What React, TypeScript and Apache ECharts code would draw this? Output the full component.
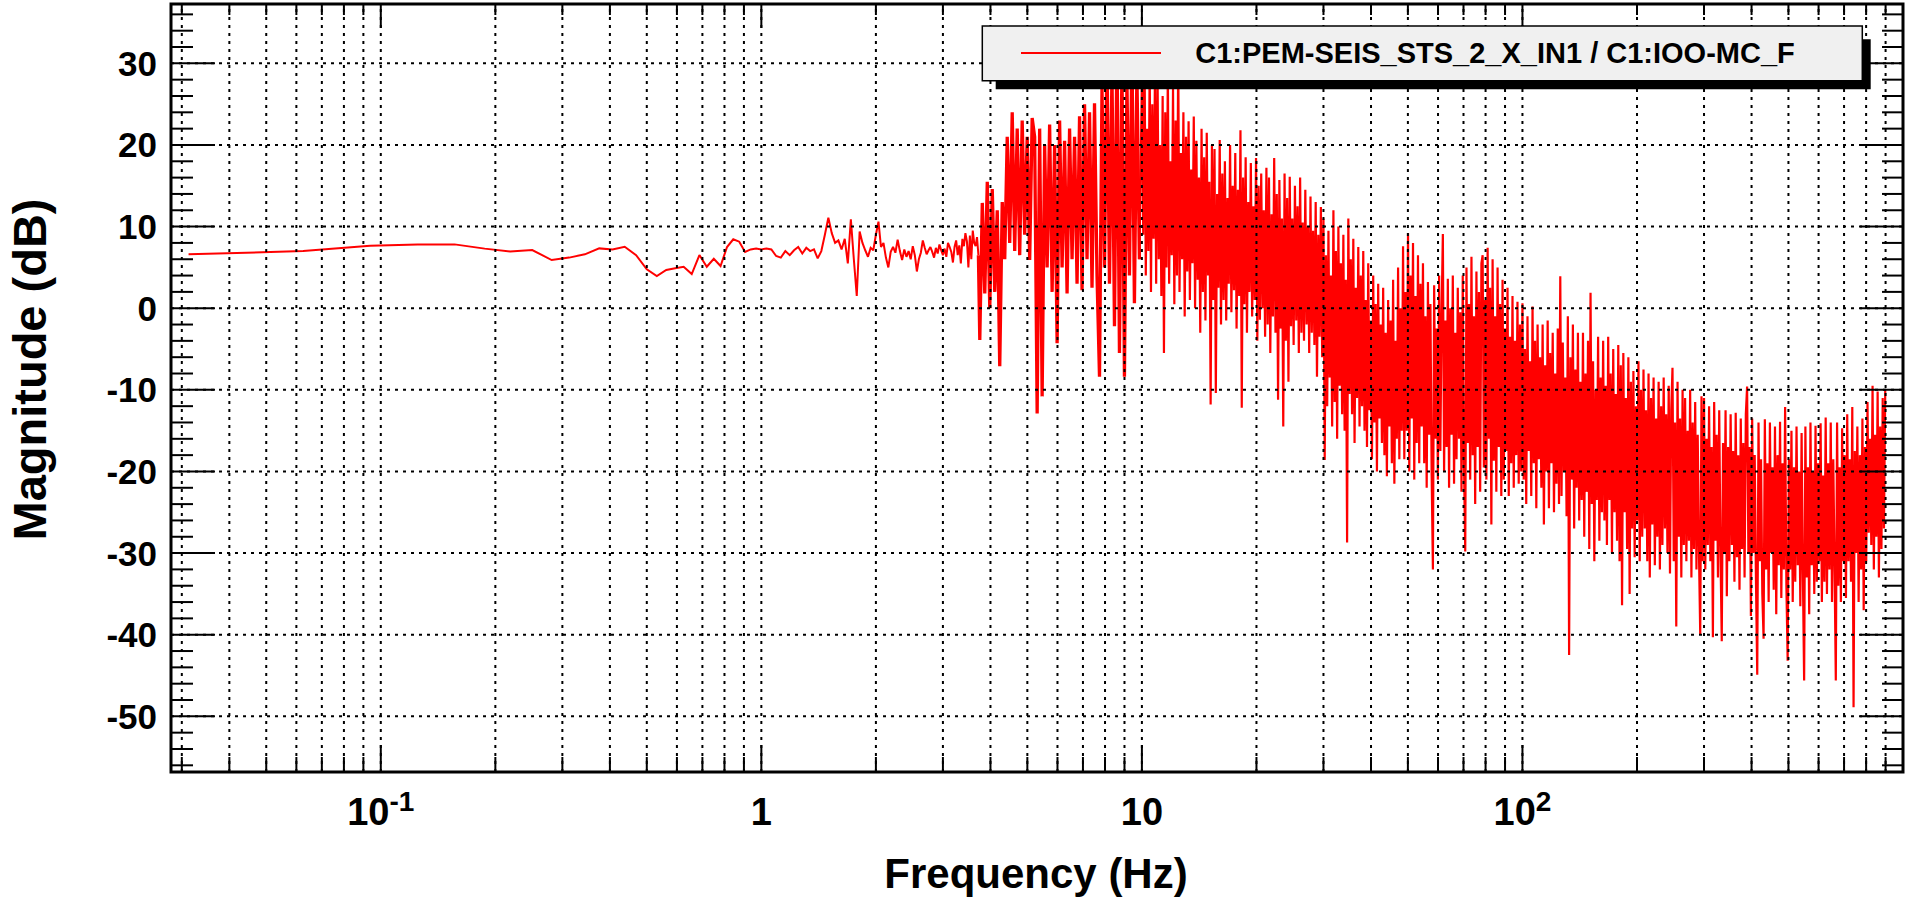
import React, { useEffect, useRef } from 'react';
import * as echarts from 'echarts';

const FONT = "'Liberation Sans', Arial, Helvetica, sans-serif";

const X_MIN = 0.0281;
const X_MAX = 1000;
const Y_MIN = -56.82;
const Y_MAX = 37.27;

const X_TITLE = 'Frequency (Hz)';
const Y_TITLE = 'Magnitude (dB)';
const LEGEND_LABEL = 'C1:PEM-SEIS_STS_2_X_IN1 / C1:IOO-MC_F';

const xMajorTicks = [0.1, 1, 10, 100, 1000];
const xMinorTicks = [
  0.03, 0.04, 0.05, 0.06, 0.07, 0.08, 0.09,
  0.2, 0.3, 0.4, 0.5, 0.6, 0.7, 0.8, 0.9,
  2, 3, 4, 5, 6, 7, 8, 9,
  20, 30, 40, 50, 60, 70, 80, 90,
  200, 300, 400, 500, 600, 700, 800, 900,
];
const xLabelValues = [0.1, 1, 10, 100];
const xLabelTexts = ['{b|10}{s|-1}', '{b|1}', '{b|10}', '{b|10}{s|2}'];

const yMajorTicks = [-50, -40, -30, -20, -10, 0, 10, 20, 30];
const yMinorTicks = [
  -56, -54, -52, -48, -46, -44, -42, -38, -36, -34, -32, -28, -26, -24, -22,
  -18, -16, -14, -12, -8, -6, -4, -2, 2, 4, 6, 8, 12, 14, 16, 18,
  22, 24, 26, 28, 32, 34, 36,
];

// FFT bins below 3.75 Hz (bin width 1/32 Hz), dB
const binWidthHz = 0.03125;
const lowBinValues = [
  6.6, 7.0, 7.65, 7.8, 7.82, 7.3, 6.95, 7.13, 5.9, 6.2,
  6.6, 7.33, 7.2, 7.53, 6.5, 4.76, 3.94, 4.68, 4.9, 5.08,
  4.19, 6.51, 5.08, 6.06, 5.17, 7.5, 8.44, 8.15, 6.9, 7.2,
  7.3, 7.2,
  7.3, 7.2, 6.4, 6.2, 7.0, 6.5, 7.1, 7.5, 6.7, 7.4,
  7.0, 7.2, 6.1, 7.0, 9.0, 11.1, 9.2, 8.0, 8.3, 7.2,
  8.5, 5.5, 10.9, 6.0, 1.5, 9.4, 8.0, 7.1, 6.3, 7.4,
  7.1, 9.0, 10.6, 7.5, 8.0, 6.2, 5.0, 6.9, 7.5, 6.8,
  8.4, 7.0, 5.9, 7.2, 6.3, 7.0, 6.0, 7.6, 6.5, 4.5,
  6.0, 6.8, 8.3, 7.4, 6.6, 7.1, 7.5, 6.9, 6.2, 7.4,
  6.7, 7.8, 7.1, 6.5, 7.3, 6.3, 8.0, 7.5, 6.9, 5.6,
  7.5, 8.3, 6.5, 7.7, 5.5, 8.5, 7.6, 9.2, 8.2, 5.0,
  8.9, 6.0, 9.5, 8.0, 7.6, 8.7, 6.5,
];

// dense part, read as alternating peaks/troughs per frequency band (dB)
const band4to10Hz = [
  -3.9, 12.9, 1.8, 15.5, 0.0, 14.6, 2.0, 12.0,
  -7.1, 13.0, 6.0, 21.0, 8.0, 24.0, 7.0, 22.0,
  6.5, 23.0, 9.0, 21.0, 5.9, 23.3, 21.0, -12.9,
  22.0, -10.8, 20.0, 5.0, 22.5, 2.0, 20.0, -4.3,
  23.0, 5.0, 20.5, 1.8, 22.0, 6.0, 21.0, 3.0,
  23.5, 2.2, 25.0, 6.0, 24.0, 2.5, 25.1, 4.0,
  -8.4, 27.0, 5.0, 31.0, 3.0, 29.0, -2.2, 33.0,
  -5.5, 30.0, -8.4, 28.0, 4.0, 32.0, 0.6, 29.0, 6.0,
];
const band10to30Hz = [
  28.0, 9.0, 33.0, 4.0, 22.0, 7.0, 30.0, 2.0, 25.0, 8.5, 27.5, 3.0, 31.0, 6.0,
  20.0, 1.5, 26.0, -5.5, 24.0, 5.0, 29.0, 3.0, 18.0, 6.5, 27.0, 0.5, 23.0, 4.0,
  31.0, 2.0, 19.0, 6.0, 24.0, -1.0, 21.0, 4.5, 22.9, 1.0, 17.0, 5.5, 23.5, 0.0,
  20.5, 3.5, 16.0, -3.0, 22.0, 2.0, 18.5, -1.5, 21.5, 4.0, 15.5, -11.8, 20.0, 1.0,
  19.5, -10.4, 14.0, 2.5, 20.6, -2.0, 16.5, 1.0, 18.0, -1.5, 13.5, 3.0, 20.0, -0.5,
  15.0, 2.2, 19.0, -2.5, 14.5, 1.5, 21.8, -12.2, 16.0, 0.5, 18.5, -3.0, 13.0, 2.0,
  17.8, -1.0, 12.5, 1.0, 18.4, -4.0, 15.0, -1.4, 16.5, 0.0, 12.0, -3.5, 17.2, -2.0,
  16.0, -5.5, 11.5, -1.0, 18.4, -3.0, 14.0, -11.2, 15.7, -2.5, 11.0, -14.5, 16.5, -4.0,
  13.5, -9.0, 16.1, -2.2, 11.0, -4.5, 15.0, -1.5, 12.5, -5.5, 16.0, -3.0, 10.5, -4.0,
  14.5, -2.0, 10.0, -5.5, 13.7, -3.0, 9.5, -4.5, 13.0, -8.4, 9.0, -3.5, 12.4, -6.0,
];
const band30to100Hz = [
  11.0, -18.6, 6.5, -12.0, 9.5, -8.5, 4.0, -14.5, 12.0, -11.5, 7.0, -16.0, 10.0, -9.5, 5.5, -13.0,
  9.0, -15.0, 3.5, -28.7, 11.0, -10.5, 6.0, -13.0, 8.5, -16.5, 2.5, -11.0, 7.5, -14.5, 4.0, -12.0,
  7.0, -15.0, 1.0, -17.0, 5.5, -12.5, -1.5, -18.5, 4.0, -14.0, 0.5, -20.0, 3.0, -13.5, -2.0, -16.5,
  2.5, -18.0, -3.0, -20.6, 1.0, -14.5, -1.5, -19.0, 3.5, -21.5, -4.0, -16.0, 5.0, -18.5, 0.0, -15.0,
  7.6, -18.5, 2.0, -15.0, 9.2, -20.0, 4.0, -13.5, 8.0, -21.0, 1.5, -16.5, 6.5, -19.0, 3.0, -14.5,
  5.5, -19.0, -1.0, -22.0, 3.2, -15.5, 0.5, -20.5, -32.0, 2.8, -16.0, -2.5, -21.0, 4.0, -17.5, -0.5,
  9.1, -20.0, -1.5, -17.0, 3.6, -22.0, 0.0, -15.5, 4.0, -21.5, -3.0, -18.5, 2.5, -16.0, -0.5, -22.5,
  4.0, -19.0, -29.8, 5.0, -16.5, 0.5, -21.0, 6.3, -18.0, -1.0, -24.0, 4.5, -17.0, 2.0, -22.5, 5.5,
  6.5, -19.5, 1.0, -21.0, 7.4, -16.0, 2.5, -26.5, 6.0, -18.7, -1.0, -22.5, 5.0, -17.0, 0.5, -23.0,
  3.5, -21.0, -2.5, -17.5, 2.5, -23.0, -3.5, -19.0, 1.5, -22.0, -4.0, -18.0, 0.8, -21.5, -2.0, -20.0,
];
const band100to300Hz = [
  0.6, -21.0, -5.0, -24.0, -1.0, -17.5, -6.5, -23.0, 0.2, -19.0, -4.0, -24.5, -2.0, -18.5, -6.0, -22.0,
  -2.0, -26.5, -7.0, -20.0, -1.5, -24.5, -5.5, -19.0, -3.0, -25.0, -8.0, -21.5, -2.5, -24.0, 3.9, -23.0,
  -4.2, -20.0, -8.5, -25.5, -1.0, -42.5, -6.0, -21.0, -2.0, -27.0, -7.5, -22.0, -3.0, -26.0, -9.0, -23.5,
  -3.0, -28.0, -8.0, -22.5, -4.0, -29.5, 1.9, -24.0, -6.5, -31.0, -10.0, -23.5, -3.5, -28.5, -8.5, -25.0,
  -4.0, -26.0, -9.5, -29.0, -3.5, -23.5, -8.0, -30.0, -5.0, -25.0, -10.5, -28.5, -4.5, -31.0, -7.0, -36.4,
  -5.5, -25.0, -11.0, -29.5, -6.0, -35.0, -9.0, -27.0, -7.7, -30.5, -12.0, -26.0, -6.5, -31.0, -10.0, -28.0,
  -7.5, -27.0, -12.5, -31.0, -8.0, -33.0, -11.0, -26.5, -8.5, -31.5, -13.5, -28.0, -9.0, -32.0, -12.0, -29.0,
  -8.5, -27.0, -13.0, -30.0, -9.5, -32.5, -12.5, -7.3, -31.0, -14.0, -39.0, -9.0, -28.0, -13.5, -33.0, -10.0,
  -29.0, -11.0, -31.0, -15.0, -28.5, -10.0, -33.0, -14.0, -29.5, -11.5, -32.0, -15.5, -30.0, -39.9, -10.8, -31.0,
];
const band300to900Hz = [
  -11.0, -32.0, -16.0, -29.0, -12.0, -31.0, -17.0, -40.3, -11.5, -28.5, -15.5, -33.0, -12.5, -30.0, -40.8, -16.5,
  -30.0, -12.5, -35.3, -17.0, -31.0, -13.0, -29.0, -17.5, -33.5, -12.8, -30.5, -18.0, -34.5, -13.5, -29.5, -16.5,
  -33.0, -13.0, -9.6, -30.0, -17.0, -37.7, -13.5, -30.0, -18.0, -33.5, -44.9, -14.0, -31.0, -18.5, -35.0, -40.5,
  -13.6, -32.0, -19.0, -36.0, -14.0, -30.0, -19.5, -34.5, -14.5, -37.5, -18.0, -31.5, -13.9, -35.5, -19.0, -32.0,
  -12.1, -34.0, -43.2, -18.5, -32.0, -15.0, -36.0, -19.5, -33.5, -14.5, -31.5, -20.0, -36.5, -15.3, -32.5, -45.6,
  -14.5, -33.0, -19.5, -37.5, -14.0, -31.5, -20.0, -35.0, -14.4, -33.5, -19.0, -31.0, -14.1, -36.0, -20.5, -33.5,
  -13.4, -35.0, -19.0, -32.0, -14.0, -36.0, -18.5, -31.5, -45.6, -14.0, -34.0, -19.5, -36.0, -14.7, -31.0, -18.0,
  -35.5, -13.0, -31.0, -18.5, -33.5, -12.1, -48.9, -17.5, -30.0, -14.5, -36.0, -18.0, -32.0, -13.5, -37.0, -17.0,
  -31.0, -11.5, -27.5, -16.0, -29.0, -9.5, -32.0, -15.5, -28.0, -10.2, -33.0, -14.5, -29.5, -11.0, -27.0, -10.0,
];

const midBands = [
  { fromHz: 3.75, toHz: 10, values: band4to10Hz },
];
const highBands = [
  { fromHz: 10, toHz: 30, values: band10to30Hz },
  { fromHz: 30, toHz: 100, values: band30to100Hz },
  { fromHz: 100, toHz: 300, values: band100to300Hz },
  { fromHz: 300, toHz: 905, values: band300to900Hz },
];

function buildLow(): [number, number][] {
  return lowBinValues.map((v, i) => [(i + 1) * binWidthHz, v]);
}

function buildBands(bands: { fromHz: number; toHz: number; values: number[] }[]): [number, number][] {
  const out: [number, number][] = [];
  for (const b of bands) {
    const n = b.values.length;
    const ratio = b.toHz / b.fromHz;
    b.values.forEach((v, i) => out.push([b.fromHz * Math.pow(ratio, i / n), v]));
  }
  return out;
}

function xLabelFor(v: number): string {
  for (let i = 0; i < xLabelValues.length; i++) {
    if (Math.abs(Math.log10(v) - Math.log10(xLabelValues[i])) < 1e-6) return xLabelTexts[i];
  }
  return '';
}

function yLabelFor(v: number): string {
  for (const t of yMajorTicks) {
    if (Math.abs(v - t) < 1e-6) return String(t);
  }
  return '';
}

function renderFrame(_params: any, api: any) {
  const children: any[] = [];
  const bl = api.coord([X_MIN, Y_MIN]);
  const tr = api.coord([X_MAX, Y_MAX]);
  const xL = bl[0];
  const yB = bl[1];
  const xR = tr[0];
  const yT = tr[1];
  const dotted = { stroke: '#000', lineWidth: 2, lineDash: [3, 5], fill: null };
  const solid = { stroke: '#000', lineWidth: 2, fill: null };
  const line = (x1: number, y1: number, x2: number, y2: number, style: any) =>
    children.push({ type: 'line', shape: { x1, y1, x2, y2 }, style });

  const gridX = [...xMinorTicks, ...xMajorTicks.filter((v) => v < X_MAX)];
  for (const v of gridX) {
    const x = api.coord([v, 0])[0];
    line(x, yB, x, yT, dotted);
  }
  for (const v of yMajorTicks) {
    const y = api.coord([1, v])[1];
    line(xL, y, xR, y, dotted);
  }
  for (const v of xMajorTicks) {
    const x = api.coord([v, 0])[0];
    line(x, yB, x, yB - 27, solid);
    line(x, yT, x, yT + 24, solid);
  }
  for (const v of xMinorTicks) {
    const x = api.coord([v, 0])[0];
    line(x, yB, x, yB - 15, solid);
    line(x, yT, x, yT + 11, solid);
  }
  for (const v of yMajorTicks) {
    const y = api.coord([1, v])[1];
    line(xL, y, xL + 44, y, solid);
    line(xR, y, xR - 43, y, solid);
  }
  for (const v of yMinorTicks) {
    const y = api.coord([1, v])[1];
    line(xL, y, xL + 22, y, solid);
    line(xR, y, xR - 21, y, solid);
  }
  return { type: 'group', children };
}

function lineSeries(name: string, data: [number, number][], width: number): any {
  return {
    name,
    type: 'line',
    data,
    showSymbol: false,
    symbol: 'none',
    silent: true,
    z: 2,
    lineStyle: { color: '#ff0000', width, join: 'miter', miterLimit: 2 },
    emphasis: { disabled: true },
  };
}

function buildOption(): any {
  const low = buildLow();
  const mid = buildBands(midBands);
  const high = buildBands(highBands);
  const midJoined = [low[low.length - 1], ...mid];
  const highJoined = [mid[mid.length - 1], ...high];
  return {
    animation: false,
    backgroundColor: '#ffffff',
    grid: {
      left: 171,
      top: 4,
      width: 1733,
      height: 768,
      show: true,
      borderColor: '#000',
      borderWidth: 3,
      backgroundColor: 'transparent',
    },
    xAxis: {
      type: 'log',
      logBase: 10,
      min: X_MIN,
      max: X_MAX,
      axisLine: { show: false },
      axisTick: { show: false },
      splitLine: { show: false },
      minorTick: { show: false },
      minorSplitLine: { show: false },
      axisLabel: {
        margin: 15,
        formatter: (v: number) => xLabelFor(v),
        rich: {
          b: { fontSize: 38, fontWeight: 'bold', fontFamily: FONT, color: '#000', lineHeight: 50 },
          s: { fontSize: 28, fontWeight: 'bold', fontFamily: FONT, color: '#000', lineHeight: 28, verticalAlign: 'top' },
        },
      },
    },
    yAxis: {
      type: 'value',
      min: Y_MIN,
      max: Y_MAX,
      splitNumber: 9,
      axisLine: { show: false },
      axisTick: { show: false },
      splitLine: { show: false },
      axisLabel: {
        margin: 14,
        fontSize: 35,
        fontWeight: 'bold',
        fontFamily: FONT,
        color: '#000',
        formatter: (v: number) => yLabelFor(v),
      },
    },
    series: [
      lineSeries(LEGEND_LABEL, low, 2),
      lineSeries(LEGEND_LABEL + ' (4-10 Hz)', midJoined, 3.3),
      lineSeries(LEGEND_LABEL + ' (10-900 Hz)', highJoined, 2.2),
      {
        type: 'custom',
        coordinateSystem: 'cartesian2d',
        data: [[1, 0]],
        renderItem: renderFrame,
        silent: true,
        clip: false,
        z: 5,
      },
    ],
    graphic: [
      {
        type: 'rect',
        z: 100,
        shape: { x: 995.7, y: 39.3, width: 875, height: 50 },
        style: { fill: '#000' },
      },
      {
        type: 'rect',
        z: 101,
        shape: { x: 982.3, y: 26, width: 880, height: 54.7 },
        style: { fill: '#f0f0f0', stroke: '#000', lineWidth: 1.5 },
      },
      {
        type: 'line',
        z: 102,
        shape: { x1: 1021, y1: 53, x2: 1161, y2: 53 },
        style: { stroke: '#ff0000', lineWidth: 2 },
      },
      {
        type: 'text',
        z: 102,
        x: 1495,
        y: 53,
        style: {
          text: LEGEND_LABEL,
          fontSize: 29,
          fontWeight: 'bold',
          fontFamily: FONT,
          fill: '#000',
          align: 'center',
          verticalAlign: 'middle',
          textAlign: 'center',
          textVerticalAlign: 'middle',
        },
      },
      {
        type: 'text',
        z: 102,
        x: 1036,
        y: 873,
        style: {
          text: X_TITLE,
          fontSize: 42,
          fontWeight: 'bold',
          fontFamily: FONT,
          fill: '#000',
          align: 'center',
          verticalAlign: 'middle',
          textAlign: 'center',
          textVerticalAlign: 'middle',
        },
      },
      {
        type: 'text',
        z: 102,
        x: 29,
        y: 369.5,
        rotation: Math.PI / 2,
        style: {
          text: Y_TITLE,
          fontSize: 47,
          fontWeight: 'bold',
          fontFamily: FONT,
          fill: '#000',
          align: 'center',
          verticalAlign: 'middle',
          textAlign: 'center',
          textVerticalAlign: 'middle',
        },
      },
    ],
  };
}

export default function App() {
  const ref = useRef<HTMLDivElement>(null);
  useEffect(() => {
    document.body.style.margin = '0';
    if (!ref.current) return;
    const chart = echarts.init(ref.current, null, { renderer: 'svg' });
    chart.setOption(buildOption());
    return () => {
      chart.dispose();
    };
  }, []);
  return <div ref={ref} style={{ width: 1906, height: 898 }} />;
}
